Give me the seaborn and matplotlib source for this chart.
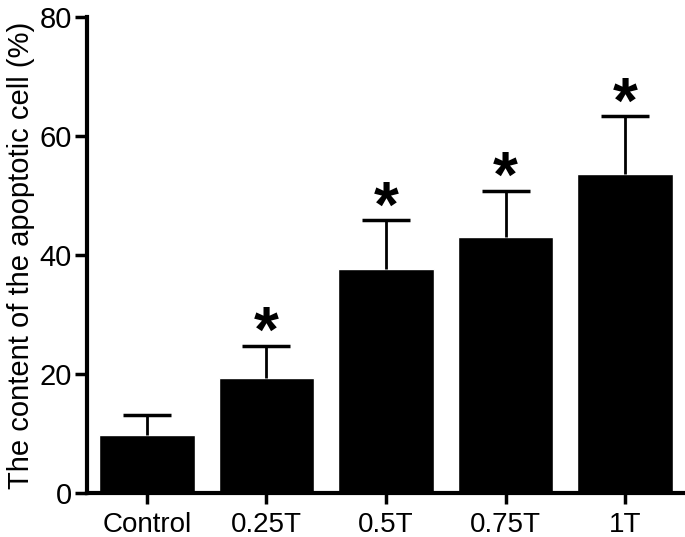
import matplotlib
matplotlib.use('Agg')
import matplotlib.pyplot as plt
import seaborn as sns
import numpy as np

# dados
grupos = ['Control', '0.25T', '0.5T', '0.75T', '1T']
medias = [9.8, 19.4, 37.6, 43.1, 53.6]
erros = [3.3, 5.35, 8.3, 7.7, 9.8]
signif = ['', '*', '*', '*', '*']

sns.set_style('ticks')
plt.rcParams['font.family'] = ['Liberation Sans', 'DejaVu Sans']
plt.rcParams['text.color'] = 'black'
plt.rcParams['axes.labelcolor'] = 'black'
plt.rcParams['xtick.color'] = 'black'
plt.rcParams['ytick.color'] = 'black'
plt.rcParams['axes.edgecolor'] = 'black'

fig = plt.figure(figsize=(6.85, 5.37), dpi=100)
ax = fig.add_axes([0.127, 0.082, 0.873, 0.886])

sns.barplot(x=grupos, y=medias, color='black', width=0.8, saturation=1, ax=ax)

# barras de erro só para cima
pos = np.arange(len(grupos))
topo = np.array(medias) + np.array(erros)
ax.vlines(pos, medias, topo, color='black', lw=2)
ax.hlines(topo, pos - 0.2, pos + 0.2, color='black', lw=2.5)

for i, (t, s) in enumerate(zip(topo, signif)):
    if s:
        ax.annotate(s, (i, t), xytext=(0, -14), textcoords='offset points',
                    ha='center', va='bottom', fontsize=46, fontweight='bold')

ax.set_ylim(0, 80)
ax.set_xlim(-0.5, 4.5)
ax.set_yticks([0, 20, 40, 60, 80])
ax.set_ylabel('The content of the apoptotic cell (%)', fontsize=21, labelpad=3)
ax.tick_params(axis='y', labelsize=21, width=2.5, length=9, pad=2)
ax.tick_params(axis='x', labelsize=20, width=2.5, length=8, pad=6)
sns.despine(ax=ax)
for sp in ['left', 'bottom']:
    ax.spines[sp].set_linewidth(3)

fig.savefig('out.png', dpi=100)
